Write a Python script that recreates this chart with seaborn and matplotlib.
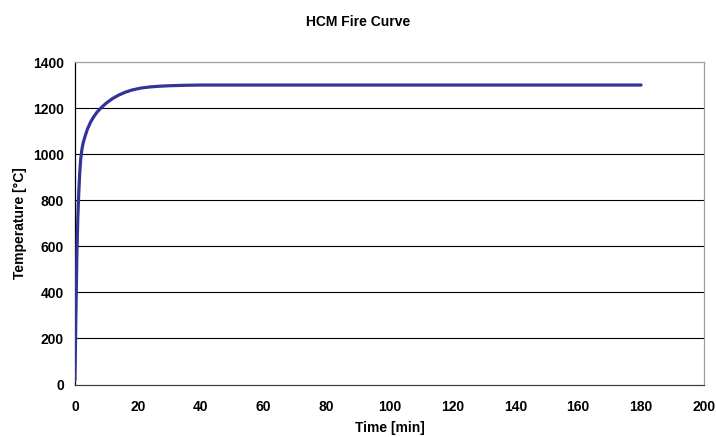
import matplotlib
matplotlib.use("Agg")
import matplotlib.pyplot as plt
import pandas as pd
import seaborn as sns

# HCM fire curve: time in minutes, gas temperature in degrees Celsius
time_min = [0, 0.3, 0.6, 0.9, 1.2, 1.5, 1.8, 2.2, 2.6, 3, 3.5, 4, 5, 6, 7,
            8, 9, 10, 12, 14, 16, 18, 21, 24, 27, 30, 35, 40, 60, 100, 140,
            180]
temp_c = [20, 300, 560, 720, 830, 915, 975, 1020, 1048, 1068, 1090, 1110,
          1140, 1163, 1182, 1197, 1210, 1222, 1242, 1257, 1269, 1278, 1287,
          1292, 1295, 1297, 1299, 1300, 1300, 1300, 1300, 1300]

x_ticks = list(range(0, 201, 20))
y_ticks = list(range(0, 1401, 200))

df = pd.DataFrame({"Time [min]": time_min, "Temperature [°C]": temp_c})

sns.set_style("white")
plt.rcParams["font.family"] = ["Liberation Sans", "DejaVu Sans"]
plt.rcParams["font.weight"] = "bold"
plt.rcParams["text.color"] = "black"
plt.rcParams["axes.labelcolor"] = "black"
plt.rcParams["xtick.color"] = "black"
plt.rcParams["ytick.color"] = "black"

fig = plt.figure(figsize=(7.16, 4.37), dpi=100)
ax = fig.add_axes([0.1047, 0.1201, 0.8785, 0.7380])

for yv in y_ticks[1:-1]:
    ax.axhline(yv, color="black", lw=0.8, zorder=1)

sns.lineplot(data=df, x="Time [min]", y="Temperature [°C]", ax=ax,
             color="#333399", lw=2.3, zorder=3)

ax.set_xlim(0, 200)
ax.set_ylim(0, 1400)
ax.set_xticks(x_ticks)
ax.set_yticks(y_ticks)
ax.tick_params(axis="both", direction="out", length=4, width=0.8,
               color="black", labelcolor="black", labelsize=10)
ax.tick_params(axis="x", pad=7)
ax.tick_params(axis="y", pad=4)
for lab in ax.get_xticklabels() + ax.get_yticklabels():
    lab.set_fontweight("bold")

ax.spines["left"].set_color("black")
ax.spines["bottom"].set_color("#404040")
ax.spines["top"].set_color("#a0a0a0")
ax.spines["right"].set_color("#a0a0a0")
for s in ax.spines.values():
    s.set_linewidth(0.9)
    s.set_visible(True)

ax.set_xlabel("Time [min]", fontsize=10, fontweight="bold", labelpad=5,
              color="black")
ax.set_ylabel("Temperature [°C]", fontsize=10, fontweight="bold", labelpad=4,
              color="black")
fig.text(0.5, 0.950, "HCM Fire Curve", ha="center", va="center",
         fontsize=10, fontweight="bold", color="black")

fig.savefig("out.png", dpi=100, facecolor="white")
